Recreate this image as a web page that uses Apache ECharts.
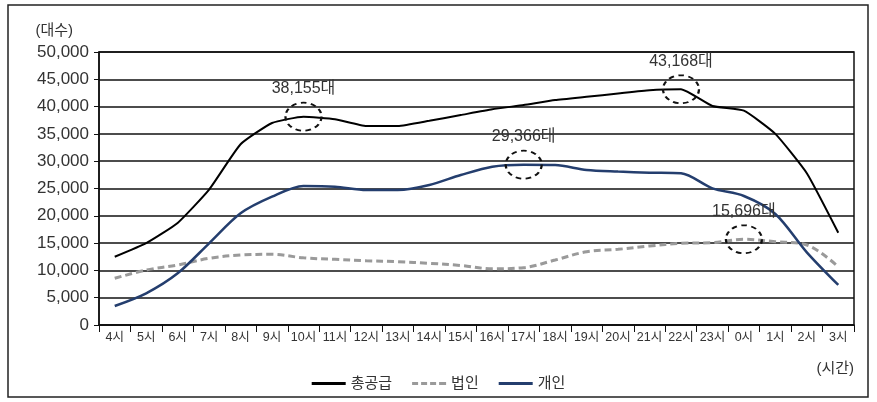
<!DOCTYPE html>
<html>
<head>
<meta charset="utf-8">
<title>시간대별 공급 대수</title>
<script src="https://cdn.jsdelivr.net/npm/echarts@6/dist/echarts.min.js"></script>
<style>
    html, body { margin: 0; padding: 0; background: #fff; }
    #main_chart { width: 877px; height: 402px; }
</style>
</head>
<body>
<div id="main_chart"></div>
<script>
var hours = ['4시','5시','6시','7시','8시','9시','10시','11시','12시','13시','14시','15시',
    '16시','17시','18시','19시','20시','21시','22시','23시','0시','1시','2시','3시'];
// 총공급
var totalValues = [12500, 15000, 18700, 24800, 33100, 37000, 38155, 37700, 36450, 36450, 37400, 38450,
    39500, 40300, 41200, 41800, 42400, 43000, 43168, 40100, 39250, 35000, 27800, 16900];
// 법인
var corpValues = [8550, 10070, 10990, 12210, 12820, 12950, 12300, 12030, 11780, 11600, 11300, 10900,
    10300, 10500, 11900, 13430, 13860, 14470, 14960, 15070, 15696, 15260, 14650, 10680];
// 개인
var personValues = [3480, 5800, 9460, 14960, 20450, 23500, 25460, 25330, 24730, 24730, 25640, 27470,
    29000, 29366, 29300, 28390, 28100, 27900, 27780, 25030, 23630, 20330, 13310, 7330];
var seriesNames = ['총공급', '법인', '개인'];
// 점선 원으로 표시한 최고값 [시간, 값]
var totalPeaks = [['10시', 38155], ['22시', 43168]];
var corpPeaks = [['0시', 15696]];
var personPeaks = [['17시', 29366]];

var fontFamily = '"Liberation Sans", "Noto Sans CJK KR", sans-serif';
// 범례 아이콘 (실선 / 점선)
var solidIcon = 'path://M0,0h34v3h-34z';
var dashIcon = 'path://M0,0h6v3h-6z M9,0h6v3h-6z M18,0h6v3h-6z M27,0h7v3h-7z';

function peakMark(list){
    var data = [];
    for(var i=0;i<list.length;i++){
        data.push({coord: list[i], value: list[i][1]});
    }
    return {
        symbol: 'circle',
        symbolSize: [36, 28],
        itemStyle: {
            color: 'rgba(0,0,0,0)',
            borderColor: '#111',
            borderWidth: 2,
            borderType: [5, 4]
        },
        label: {
            show: true,
            position: 'top',
            distance: 5,
            color: '#333',
            fontSize: 16,
            fontFamily: fontFamily,
            formatter: function(p){
                return p.value.toLocaleString('en-US') + '대';
            }
        },
        data: data
    };
}

var chart = echarts.init(document.getElementById('main_chart'));
var options = {
    backgroundColor: '#fff',
    animation: false,
    textStyle: { fontFamily: fontFamily },
    graphic: [{
        type: 'rect',
        shape: { x: 8, y: 5, width: 860, height: 392 },
        style: { fill: 'none', stroke: '#222', lineWidth: 1.5 },
        silent: true
    }],
    grid: {
        left: 99,
        right: 23,
        top: 52,
        bottom: 77,
        show: true,
        borderColor: '#111',
        borderWidth: 1.5
    },
    legend: {
        top: 371,
        left: 'center',
        itemWidth: 34,
        itemHeight: 3,
        itemGap: 20,
        textStyle: { fontSize: 15, color: '#333', fontFamily: fontFamily },
        data: [
            { name: seriesNames[0], icon: solidIcon },
            { name: seriesNames[1], icon: dashIcon },
            { name: seriesNames[2], icon: solidIcon }
        ]
    },
    xAxis: {
        type: 'category',
        data: hours,
        boundaryGap: true,
        name: '(시간)',
        nameLocation: 'end',
        nameGap: 0,
        nameTextStyle: {
            fontSize: 15,
            color: '#333',
            align: 'right',
            verticalAlign: 'top',
            padding: [36, 0, 0, 0]
        },
        axisLine: { lineStyle: { color: '#111', width: 1.5 } },
        axisTick: { show: true, length: 7, lineStyle: { color: '#111' } },
        axisLabel: { fontSize: 12.5, color: '#333', margin: 6, interval: 0 }
    },
    yAxis: {
        type: 'value',
        min: 0,
        max: 50000,
        interval: 5000,
        name: '(대수)',
        nameLocation: 'end',
        nameGap: 14,
        nameTextStyle: {
            fontSize: 15,
            color: '#333',
            align: 'right',
            padding: [0, 26, 0, 0]
        },
        axisLine: { show: true, lineStyle: { color: '#111', width: 1.5 } },
        axisTick: { show: true, length: 5, lineStyle: { color: '#111' } },
        axisLabel: {
            fontSize: 17,
            color: '#333',
            margin: 10,
            formatter: function(v){ return v.toLocaleString('en-US'); }
        },
        splitLine: { lineStyle: { color: '#111', width: 1.5 } }
    },
    series: [{
        name: seriesNames[0],
        type: 'line',
        data: totalValues,
        symbol: 'none',
        smooth: 0.15,
        z: 4,
        lineStyle: { color: '#000', width: 2 },
        itemStyle: { color: '#000' },
        markPoint: peakMark(totalPeaks)
    }, {
        name: seriesNames[1],
        type: 'line',
        data: corpValues,
        symbol: 'none',
        smooth: 0.35,
        z: 3,
        lineStyle: { color: '#9a9a9a', width: 3, type: [7, 4] },
        itemStyle: { color: '#9a9a9a' },
        markPoint: peakMark(corpPeaks)
    }, {
        name: seriesNames[2],
        type: 'line',
        data: personValues,
        symbol: 'none',
        smooth: 0.3,
        z: 3,
        lineStyle: { color: '#243e6e', width: 2.5 },
        itemStyle: { color: '#243e6e' },
        markPoint: peakMark(personPeaks)
    }]
};
chart.setOption(options);
window.addEventListener('resize', function(){ chart.resize(); });
</script>
</body>
</html>
